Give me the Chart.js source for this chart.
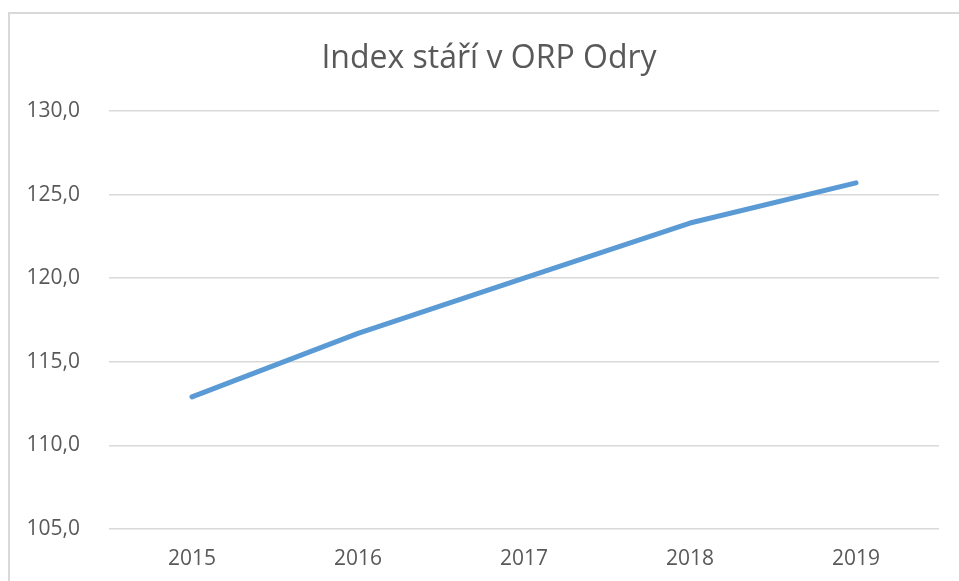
<!DOCTYPE html>
<html>
<head>
<meta charset="utf-8">
<script src="https://cdn.jsdelivr.net/npm/chart.js@4"></script>
<style>
    html, body { margin: 0; padding: 0; background: #fff; overflow: hidden; }
    #frame {
        position: absolute; left: 8px; top: 12px;
        width: 1000px; height: 1000px;
        border: 2px solid #d9d9d9; box-sizing: border-box;
    }
    #chart { position: absolute; left: 0; top: 0; }
</style>
</head>
<body>
<div id="frame"></div>
<canvas id="chart" width="959" height="581"></canvas>
<script>
// data
const years = ['2015', '2016', '2017', '2018', '2019'];
const indexValues = [112.9, 116.7, 120.0, 123.3, 125.7];
const yTickValues = [105, 110, 115, 120, 125, 130];

const textColor = '#595959';
const gridColor = '#d9d9d9';

// title in the original sits a bit right of the canvas centre
const shiftTitle = {
    id: 'shiftTitle',
    afterLayout: function (chart) {
        if (chart.titleBlock) chart.titleBlock.left = 39;
    }
};

document.addEventListener('DOMContentLoaded', function () {
    const canvas = document.getElementById('chart');

    new Chart(canvas, {
        type: 'line',
        data: {
            labels: years,
            datasets: [{
                label: 'Index stáří',
                data: indexValues,
                borderColor: '#5b9bd5',
                borderWidth: 5,
                borderCapStyle: 'round',
                borderJoinStyle: 'round',
                pointRadius: 0,
                tension: 0,
                fill: false
            }]
        },
        options: {
            responsive: false,
            devicePixelRatio: 1,
            animation: false,
            layout: { padding: { top: 40, right: 20, bottom: 0, left: 0 } },
            plugins: {
                legend: { display: false },
                tooltip: { enabled: false },
                title: {
                    display: true,
                    text: 'Index stáří v ORP Odry',
                    color: textColor,
                    font: { family: 'Open Sans', size: 32, weight: 'normal', lineHeight: 1.2 },
                    padding: { top: 0, bottom: 32.6 }
                }
            },
            scales: {
                x: {
                    offset: true,
                    grid: { display: false, drawTicks: false },
                    border: { display: false },
                    ticks: {
                        color: textColor,
                        padding: 17,
                        font: { family: 'Open Sans', size: 21 }
                    },
                    afterFit: function (scale) { scale.height = 52; }
                },
                y: {
                    min: 105,
                    max: 130,
                    grid: { color: gridColor, lineWidth: 1.5, drawTicks: false },
                    border: { display: false },
                    ticks: {
                        color: textColor,
                        padding: 29,
                        font: { family: 'Open Sans', size: 21 },
                        callback: function (value) {
                            return value.toFixed(1).replace('.', ',');
                        }
                    },
                    afterBuildTicks: function (scale) {
                        scale.ticks = yTickValues.map(v => ({ value: v }));
                    },
                    afterFit: function (scale) { scale.width = 109; }
                }
            }
        },
        plugins: [shiftTitle]
    });
});
</script>
</body>
</html>
